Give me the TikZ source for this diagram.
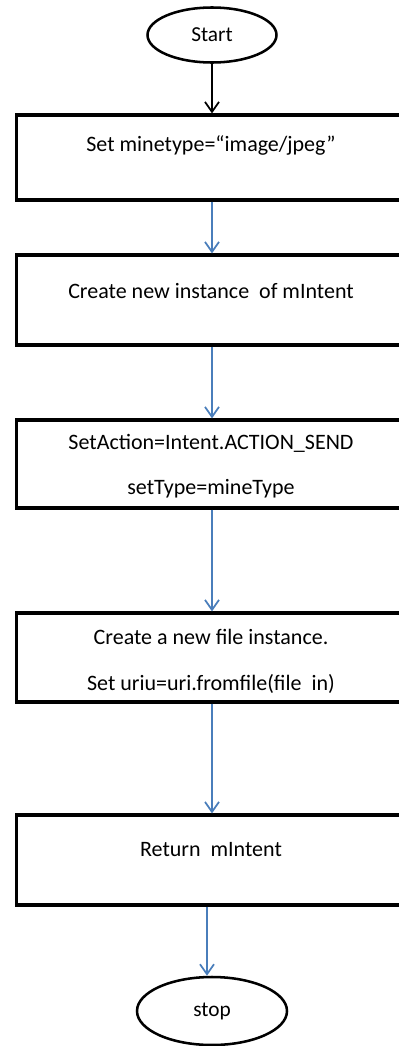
\documentclass[tikz,border=0pt]{standalone}
\usepackage{fontspec}
\setmainfont{Carlito}
\usetikzlibrary{arrows.meta,shapes.geometric}
\definecolor{arrowblue}{RGB}{74,126,187}
\tikzset{
  x=0.75pt, y=-0.75pt,
  procbox/.style={draw=black, line width=2.4pt, rectangle, minimum width=295pt, inner sep=0pt},
  term/.style={draw=black, line width=1.9pt, ellipse, inner sep=0pt, font=\fontsize{16}{18}\selectfont},
  lbl/.style={inner sep=0pt, font=\fontsize{16.5}{19}\selectfont, anchor=center},
  flow/.style={draw=arrowblue, line width=1.3pt, -{Straight Barb[length=7.5pt,width=10.5pt,line width=1.3pt]}},
  flowk/.style={draw=black, line width=1.3pt, -{Straight Barb[length=7.5pt,width=10.5pt,line width=1.3pt]}}
}
\begin{document}
\begin{tikzpicture}
\useasboundingbox (0,0) rectangle (399,1046);
\clip (0,0) rectangle (399,1046);
% terminals
\node[term, minimum width=96.75pt, minimum height=41.25pt] (start) at (212,35) {Start};
\node[term, minimum width=112.5pt, minimum height=51pt] (stop) at (212,1011) {stop};
% process boxes
\node[procbox, minimum height=63.75pt] (b1) at (213.5,157.5) {};
\node[procbox, minimum height=67.5pt] (b2) at (213.5,300) {};
\node[procbox, minimum height=66pt] (b3) at (213.5,464) {};
\node[procbox, minimum height=66.75pt] (b4) at (213.5,657.5) {};
\node[procbox, minimum height=67.5pt] (b5) at (213.5,860) {};
% texts
\node[lbl] (t1) at (211,145) {Set minetype=“image/jpeg”};
\node[lbl] (t2) at (211,291) {Create new instance\ \ of mIntent};
\node[lbl] (t3a) at (211,443) {SetAction=Intent.ACTION\_SEND};
\node[lbl] (t3b) at (211,489) {setType=mineType};
\node[lbl] (t4a) at (211,637) {Create a new file instance.};
\node[lbl] (t4b) at (211,684) {Set uriu=uri.fromfile(file\ \ in)};
\node[lbl] (t5) at (211,850) {Return\ \ mIntent};
% connectors
\draw[flowk] (start.south) -- (start.south |- b1.north);
\draw[flow] (b1.south -| start) -- (b2.north -| start);
\draw[flow] (b2.south -| start) -- (b3.north -| start);
\draw[flow] (b3.south -| start) -- (b4.north -| start);
\draw[flow] (b4.south -| start) -- (b5.north -| start);
\draw[flow] ([xshift=-3.75pt]b5.south -| stop) -- ([xshift=-3.75pt]stop.north);
\end{tikzpicture}
\end{document}
